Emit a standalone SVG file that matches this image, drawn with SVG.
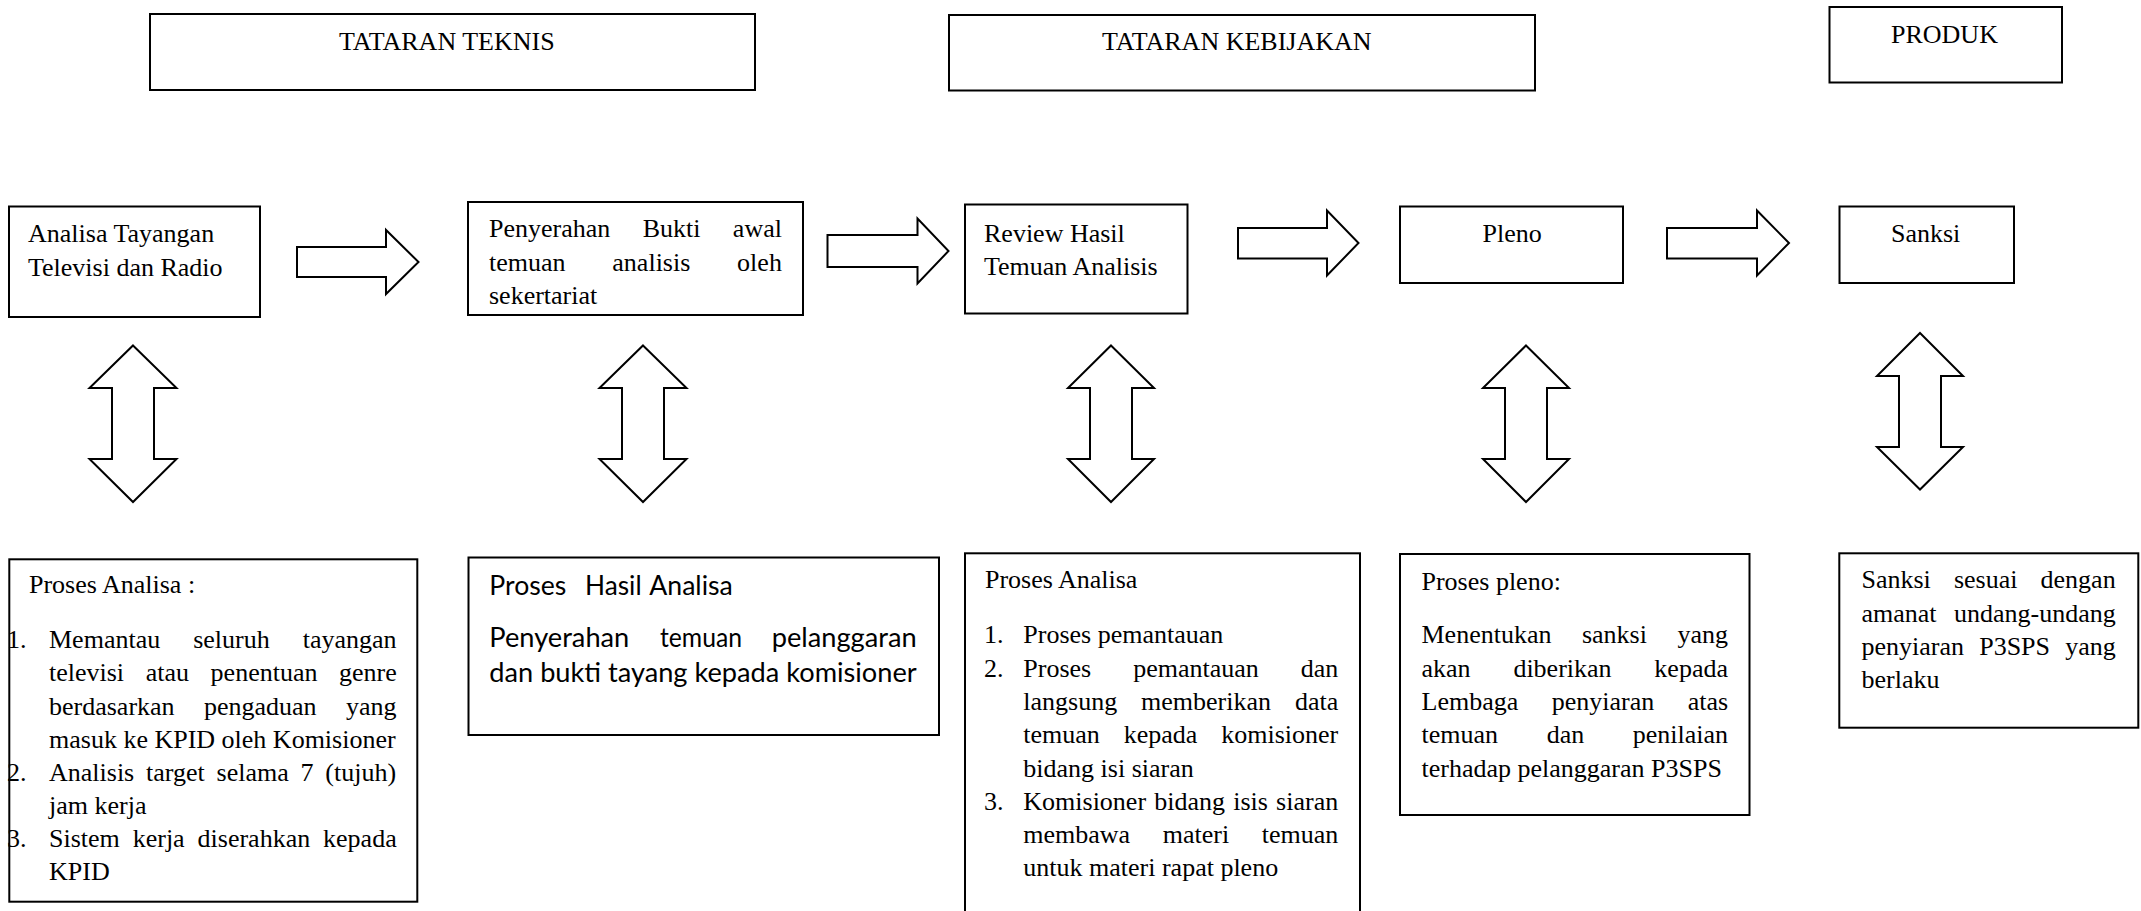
<svg xmlns="http://www.w3.org/2000/svg" width="2141" height="911" viewBox="0 0 2141 911">
<style>
.box{fill:#fff;stroke:#000;stroke-width:2}
.arr{fill:#fff;stroke:#000;stroke-width:2;stroke-linejoin:miter}
.t{font-family:"Liberation Serif","Times New Roman",serif;font-size:26px;fill:#000}
.s{font-family:Lato,"Liberation Sans",sans-serif;font-size:27px;fill:#000}
</style>
<rect width="2141" height="911" fill="#fff"/>

<g id="hdr-teknis">
<rect class="box" x="150" y="14" width="605" height="76"/>
<text class="t" x="339" y="50">TATARAN TEKNIS</text>
</g>
<g id="hdr-kebijakan">
<rect class="box" x="949" y="15" width="586" height="75.5"/>
<text class="t" x="1102" y="50">TATARAN KEBIJAKAN</text>
</g>
<g id="hdr-produk">
<rect class="box" x="1829.5" y="7" width="232.5" height="75.5"/>
<text class="t" x="1891" y="42.7">PRODUK</text>
</g>

<g id="n-analisa">
<rect class="box" x="9" y="206.5" width="251" height="110.5"/>
<text class="t" x="28" y="242">Analisa Tayangan</text>
<text class="t" x="28" y="275.5">Televisi dan Radio</text>
</g>
<g id="n-penyerahan">
<rect class="box" x="468" y="202" width="335" height="113"/>
<text class="t" x="489" y="237" word-spacing="25.9">Penyerahan Bukti awal</text>
<text class="t" x="489" y="270.5" word-spacing="40.3">temuan analisis oleh</text>
<text class="t" x="489" y="303.8">sekertariat</text>
</g>
<g id="n-review">
<rect class="box" x="965" y="204.5" width="222.5" height="109"/>
<text class="t" x="984" y="241.7">Review Hasil</text>
<text class="t" x="984" y="275">Temuan Analisis</text>
</g>
<g id="n-pleno">
<rect class="box" x="1400" y="206.5" width="223" height="76.5"/>
<text class="t" x="1482.5" y="241.7">Pleno</text>
</g>
<g id="n-sanksi">
<rect class="box" x="1839.5" y="206.5" width="174.5" height="76.5"/>
<text class="t" x="1891" y="241.7">Sanksi</text>
</g>

<g id="d-proses-analisa">
<rect class="box" x="9.3" y="559.3" width="408" height="342.4"/>
<text class="t" x="29" y="593.3">Proses Analisa :</text>
<text class="t" x="7" y="648.3">1.</text>
<text class="t" x="7" y="780.7">2.</text>
<text class="t" x="7" y="846.9">3.</text>
<text class="t" x="49" y="648.3" word-spacing="26.5">Memantau seluruh tayangan</text>
<text class="t" x="49" y="681.4" word-spacing="15.1">televisi atau penentuan genre</text>
<text class="t" x="49" y="714.5" word-spacing="22.9">berdasarkan pengaduan yang</text>
<text class="t" x="49" y="747.6">masuk ke KPID oleh Komisioner</text>
<text class="t" x="49" y="780.7" word-spacing="5.3">Analisis target selama 7 (tujuh)</text>
<text class="t" x="49" y="813.8">jam kerja</text>
<text class="t" x="49" y="846.9" word-spacing="6.4">Sistem kerja diserahkan kepada</text>
<text class="t" x="49" y="880">KPID</text>
</g>

<g id="d-hasil-analisa">
<rect class="box" x="468.5" y="557.5" width="470.5" height="177.5"/>
<text class="s" x="489.3" y="595" textLength="77" lengthAdjust="spacingAndGlyphs">Proses</text>
<text class="s" x="585" y="595" textLength="56.6" lengthAdjust="spacingAndGlyphs">Hasil</text>
<text class="s" x="649.3" y="595" textLength="83.5" lengthAdjust="spacingAndGlyphs">Analisa</text>
<text class="s" x="489.3" y="646.7" textLength="140" lengthAdjust="spacingAndGlyphs">Penyerahan</text>
<text class="s" x="660" y="646.7" textLength="82" lengthAdjust="spacingAndGlyphs">temuan</text>
<text class="s" x="771.7" y="646.7" textLength="145" lengthAdjust="spacingAndGlyphs">pelanggaran</text>
<text class="s" x="489.3" y="681.7" textLength="427.4" lengthAdjust="spacingAndGlyphs">dan bukti tayang kepada komisioner</text>
</g>

<g id="d-proses-analisa-2">
<rect class="box" x="965" y="553.3" width="395" height="380"/>
<text class="t" x="985" y="588.3">Proses Analisa</text>
<text class="t" x="984" y="643.3">1.</text>
<text class="t" x="984" y="676.6">2.</text>
<text class="t" x="984" y="809.8">3.</text>
<text class="t" x="1023.3" y="643.3">Proses pemantauan</text>
<text class="t" x="1023.3" y="676.6" word-spacing="35.5">Proses pemantauan dan</text>
<text class="t" x="1023.3" y="709.9" word-spacing="17.4">langsung memberikan data</text>
<text class="t" x="1023.3" y="743.2" word-spacing="17.4">temuan kepada komisioner</text>
<text class="t" x="1023.3" y="776.5">bidang isi siaran</text>
<text class="t" x="1023.3" y="809.8" word-spacing="1.7">Komisioner bidang isis siaran</text>
<text class="t" x="1023.3" y="843.1" word-spacing="26.1">membawa materi temuan</text>
<text class="t" x="1023.3" y="876.4">untuk materi rapat pleno</text>
</g>

<g id="d-proses-pleno">
<rect class="box" x="1400" y="554" width="349.5" height="261"/>
<text class="t" x="1421.5" y="590">Proses pleno:</text>
<text class="t" x="1421.5" y="643.3" word-spacing="24">Menentukan sanksi yang</text>
<text class="t" x="1421.5" y="676.6" word-spacing="36.3">akan diberikan kepada</text>
<text class="t" x="1421.5" y="709.9" word-spacing="27">Lembaga penyiaran atas</text>
<text class="t" x="1421.5" y="743.2" word-spacing="42.1">temuan dan penilaian</text>
<text class="t" x="1421.5" y="776.5">terhadap pelanggaran P3SPS</text>
</g>

<g id="d-sanksi">
<rect class="box" x="1839.3" y="553.3" width="299" height="174.4"/>
<text class="t" x="1861.5" y="588.3" word-spacing="16.6">Sanksi sesuai dengan</text>
<text class="t" x="1861.5" y="621.6" word-spacing="11">amanat undang-undang</text>
<text class="t" x="1861.5" y="654.9" word-spacing="8.7">penyiaran P3SPS yang</text>
<text class="t" x="1861.5" y="688.2">berlaku</text>
</g>

<g id="connectors">
<polygon class="arr" points="297,247 386,247 386,230 418.5,262 386,294 386,277 297,277"/>
<polygon class="arr" points="827.5,235 917.5,235 917.5,218.5 948.5,251 917.5,283.5 917.5,267 827.5,267"/>
<polygon class="arr" points="1238,228 1327,228 1327,210.5 1358.5,243 1327,275.5 1327,258.5 1238,258.5"/>
<polygon class="arr" points="1667,228 1757,228 1757,210.5 1789,243 1757,275.5 1757,258.5 1667,258.5"/>
<polygon class="arr" points="133,345.5 176.5,388 154,388 154,459 176.5,459 133,502 89.5,459 112,459 112,388 89.5,388"/>
<polygon class="arr" points="643,345.5 686.5,388 664,388 664,459 686.5,459 643,502 599.5,459 622,459 622,388 599.5,388"/>
<polygon class="arr" points="1111,345.5 1154,388 1132,388 1132,459 1154,459 1111,502 1068,459 1090,459 1090,388 1068,388"/>
<polygon class="arr" points="1526,345.5 1569,388 1547,388 1547,459 1569,459 1526,502 1483,459 1505,459 1505,388 1483,388"/>
<polygon class="arr" points="1920,333 1963,376 1941,376 1941,447 1963,447 1920,489.5 1877,447 1899,447 1899,376 1877,376"/>
</g>
</svg>
